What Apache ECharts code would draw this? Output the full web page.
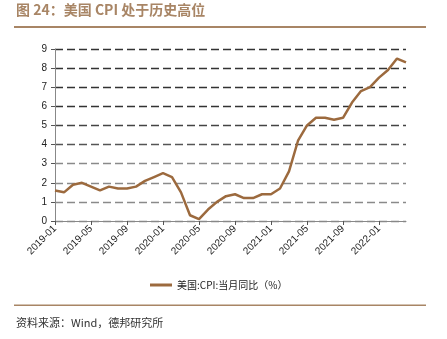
<!DOCTYPE html>
<html>
<head>
<meta charset="utf-8">
<script src="https://cdn.jsdelivr.net/npm/echarts@6/dist/echarts.min.js"></script>
<style>
  html, body { margin: 0; padding: 0; background: #fff; }
  #chart { width: 447px; height: 339px; }
</style>
</head>
<body>
<div id="chart"></div>
<script>
// Monthly US CPI, year-over-year (%), 2019-01 .. 2022-04
const months = [
  '2019-01','2019-02','2019-03','2019-04','2019-05','2019-06','2019-07','2019-08','2019-09','2019-10','2019-11','2019-12',
  '2020-01','2020-02','2020-03','2020-04','2020-05','2020-06','2020-07','2020-08','2020-09','2020-10','2020-11','2020-12',
  '2021-01','2021-02','2021-03','2021-04','2021-05','2021-06','2021-07','2021-08','2021-09','2021-10','2021-11','2021-12',
  '2022-01','2022-02','2022-03','2022-04'
];
const cpiYoY = [
  1.6, 1.5, 1.9, 2.0, 1.8, 1.6, 1.8, 1.7, 1.7, 1.8, 2.1, 2.3,
  2.5, 2.3, 1.5, 0.3, 0.1, 0.6, 1.0, 1.3, 1.4, 1.2, 1.2, 1.4,
  1.4, 1.7, 2.6, 4.2, 5.0, 5.4, 5.4, 5.3, 5.4, 6.2, 6.8, 7.0,
  7.5, 7.9, 8.5, 8.3
];
const seriesName = '美国:CPI:当月同比（%）';
const titleText = '图 24：美国 CPI 处于历史高位';
const sourceText = '资料来源：Wind，德邦研究所';

const brown = '#9c6a3e';
const tan = '#a88565';
const cjk = '"Noto Sans CJK SC", "Liberation Sans", sans-serif';

const chart = echarts.init(document.getElementById('chart'), null, { renderer: 'canvas' });
chart.setOption({
  animation: false,
  backgroundColor: '#fff',
  grid: { left: 55, right: 41, top: 49, bottom: 118 },
  legend: {
    data: [seriesName],
    left: 145, top: 275,
    itemWidth: 22, itemHeight: 3, itemGap: 4,
    icon: 'rect',
    textStyle: { fontFamily: cjk, fontSize: 10, color: '#222' }
  },
  xAxis: {
    type: 'category',
    data: months,
    boundaryGap: false,
    axisLine: { lineStyle: { color: '#888', width: 1 } },
    axisTick: { interval: 3, length: 4, lineStyle: { color: '#555' } },
    axisLabel: {
      interval: 3, rotate: 45, margin: 6,
      fontFamily: '"Liberation Sans", Arial, sans-serif', fontSize: 10, color: '#222'
    },
    splitLine: { show: false }
  },
  yAxis: {
    type: 'value',
    min: 0, max: 9, interval: 1,
    axisLine: { show: true, lineStyle: { color: '#888', width: 1 } },
    axisTick: { show: true, length: 4, lineStyle: { color: '#555' } },
    axisLabel: {
      margin: 8,
      fontFamily: '"Liberation Sans", Arial, sans-serif', fontSize: 10, color: '#222'
    },
    splitLine: {
      show: true,
      lineStyle: {
        type: [8, 4],
        width: 1.3,
        color: ['#888', '#8a8a8a', '#8a8a8a', '#8a8a8a', '#555', '#444', '#333', '#333', '#333', '#333']
      }
    }
  },
  series: [{
    name: seriesName,
    type: 'line',
    data: cpiYoY,
    symbol: 'none',
    lineStyle: { color: brown, width: 2.5 },
    itemStyle: { color: brown }
  }],
  graphic: [
    {
      type: 'text', left: 16, top: 3,
      style: { text: titleText, fill: tan, font: 'bold 14px ' + cjk }
    },
    {
      type: 'rect', shape: { x: 14, y: 26, width: 412, height: 2 },
      style: { fill: tan }
    },
    {
      type: 'rect', shape: { x: 14, y: 304.5, width: 412, height: 1.5 },
      style: { fill: tan }
    },
    {
      type: 'text', left: 16, top: 317,
      style: { text: sourceText, fill: '#333', font: '11px ' + cjk }
    }
  ]
});
</script>
</body>
</html>
